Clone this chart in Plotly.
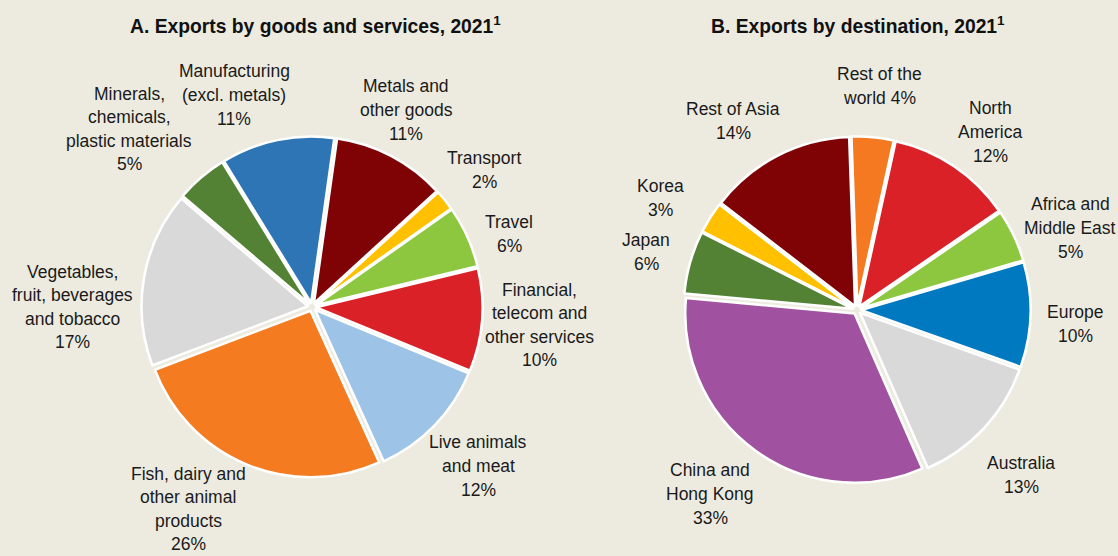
import plotly.graph_objects as go

# Panel A: exports by goods and services, 2021 (% of total), clockwise from 12 o'clock
goods_names = [
    "Metals and other goods", "Transport", "Travel",
    "Financial, telecom and other services", "Live animals and meat",
    "Fish, dairy and other animal products",
    "Vegetables, fruit, beverages and tobacco",
    "Minerals, chemicals, plastic materials", "Manufacturing (excl. metals)",
]
goods_lines = [
    ["Metals and", "other goods"], ["Transport"], ["Travel"],
    ["Financial,", "telecom and", "other services"], ["Live animals", "and meat"],
    ["Fish, dairy and", "other animal", "products"],
    ["Vegetables,", "fruit, beverages", "and tobacco"],
    ["Minerals,", "chemicals,", "plastic materials"], ["Manufacturing", "(excl. metals)"],
]
goods_pct_inline = [False] * 9
goods_values = [11, 2, 6, 10, 12, 26, 17, 5, 11]
goods_colors = ["#7F0305", "#FFC000", "#8DC63F", "#DA2128", "#9DC3E6",
                "#F47B20", "#D9D9D9", "#548235", "#2E75B6"]

# Panel B: exports by destination, 2021 (% of total), clockwise from 12 o'clock
dest_names = [
    "Rest of the world", "North America", "Africa and Middle East", "Europe",
    "Australia", "China and Hong Kong", "Japan", "Korea", "Rest of Asia",
]
dest_lines = [
    ["Rest of the", "world"], ["North", "America"], ["Africa and", "Middle East"],
    ["Europe"], ["Australia"], ["China and", "Hong Kong"], ["Japan"], ["Korea"],
    ["Rest of Asia"],
]
dest_pct_inline = [True, False, False, False, False, False, False, False, False]
dest_values = [4, 12, 5, 10, 13, 33, 6, 3, 14]
dest_colors = ["#F47920", "#DA2128", "#8DC63F", "#0079C1", "#D9D9D9",
               "#A052A0", "#548235", "#FFC000", "#7F0305"]

W, H = 1118, 556
BG = "#EDEBE0"
FONT = "Liberation Sans, Arial, sans-serif"
LABEL_SIZE = 17.5
LINE_STEP = 23.6

# label anchor points (pixel centres of each text block)
goods_label_pos = [(406, 110), (484, 170), (509, 234), (539, 325), (478, 466),
                   (188, 509), (72, 307), (129, 129), (234, 95)]
dest_label_pos = [(879, 86), (990, 132), (1070, 228), (1075, 324), (1021, 475),
                  (710, 494), (646, 252), (660, 198), (733, 121)]


def pie_domain(cx, cy, half):
    return dict(x=[(cx - half) / W, (cx + half) / W],
                y=[1 - (cy + half) / H, 1 - (cy - half) / H])


def label_rows(lines, value, inline):
    if inline:
        return lines[:-1] + [f"{lines[-1]} {value}%"]
    return lines + [f"{value}%"]


def label_annotations(lines_list, values, inline_flags, positions):
    out = []
    for lines, v, inline, (px, py) in zip(lines_list, values, inline_flags, positions):
        rows = label_rows(lines, v, inline)
        n = len(rows)
        for i, row in enumerate(rows):
            ry = py + (i - (n - 1) / 2) * LINE_STEP
            out.append(dict(
                text=row, x=px / W, y=1 - ry / H,
                xref="paper", yref="paper", xanchor="center", yanchor="middle",
                showarrow=False,
                font=dict(family=FONT, size=LABEL_SIZE, color="#1a1a1a"),
            ))
    return out


fig = go.Figure()

fig.add_trace(go.Pie(
    labels=goods_names, values=goods_values, sort=False,
    direction="clockwise", rotation=8, pull=0.025,
    marker=dict(colors=goods_colors, line=dict(color="white", width=2.5)),
    textinfo="none", hoverinfo="label+percent", showlegend=False,
    domain=pie_domain(312, 307, 170.5),
))

fig.add_trace(go.Pie(
    labels=dest_names, values=dest_values, sort=False,
    direction="clockwise", rotation=-2, pull=0.025,
    marker=dict(colors=dest_colors, line=dict(color="white", width=2.5)),
    textinfo="none", hoverinfo="label+percent", showlegend=False,
    domain=pie_domain(857, 310, 173.5),
))

annotations = (label_annotations(goods_lines, goods_values, goods_pct_inline, goods_label_pos)
               + label_annotations(dest_lines, dest_values, dest_pct_inline, dest_label_pos))

# panel titles
for title, cx in [("A. Exports by goods and services, 2021<sup>1</sup>", 315),
                  ("B. Exports by destination, 2021<sup>1</sup>", 858)]:
    annotations.append(dict(
        text=f"<b>{title}</b>", x=cx / W, y=1 - 25 / H,
        xref="paper", yref="paper", xanchor="center", yanchor="middle",
        showarrow=False, font=dict(family=FONT, size=19.3, color="#111111"),
    ))

fig.update_layout(
    width=W, height=H, margin=dict(l=0, r=0, t=0, b=0),
    paper_bgcolor=BG, plot_bgcolor=BG,
    annotations=annotations,
)

fig.write_html("out.html")
